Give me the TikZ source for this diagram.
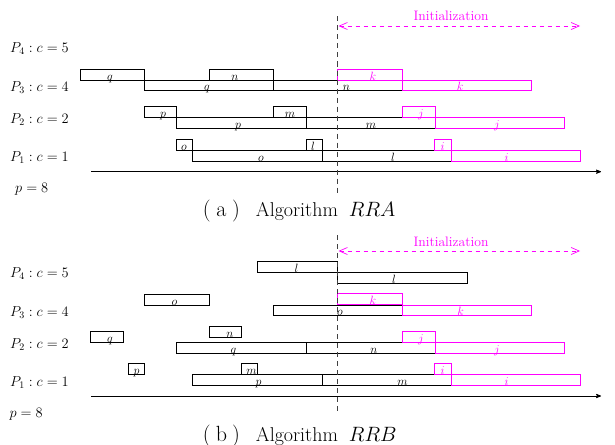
\documentclass[tikz,border=0pt]{standalone}
\usetikzlibrary{arrows,arrows.meta}
\definecolor{mag}{RGB}{255,0,255}
\tikzset{
  jb/.style={draw=black, line width=0.7pt},
  ib/.style={draw=mag, line width=0.7pt},
  jbtext/.style={text=black},
  ibtext/.style={text=mag},
  lbl/.style={anchor=base, inner sep=0pt, font=\fontsize{13}{15}\selectfont},
  rowlbl/.style={anchor=base west, inner sep=0pt, font=\fontsize{14.5}{17}\selectfont},
  captxt/.style={anchor=base west, inner sep=0pt, font=\fontsize{20}{24}\selectfont},
  initlbl/.style={anchor=base, inner sep=0pt, text=mag, font=\fontsize{13.7}{16}\selectfont},
  initarrow/.style={draw=mag, dash pattern=on 4.5pt off 3.5pt, line width=0.7pt,
    {Straight Barb[length=8pt,width=7pt]}-{Straight Barb[length=8pt,width=7pt]}},
  vline/.style={draw=black!75, dash pattern=on 5pt off 4pt, line width=0.8pt},
  axis/.style={draw=black, line width=0.8pt, ->, >=stealth'}
}
% #1 style, #2 name, #3 x1, #4 y1, #5 x2, #6 y2, #7 label x, #8 label
\newcommand\jobbox[8]{%
  \draw[#1] (#3,#4) rectangle (#5,#6);
  \node[lbl,#1text] (#2) at (#7,#6) {$#8$};}
\newcommand\captag[1]{{\fontsize{22}{26}\selectfont\makebox[37pt][s]{(\hfill #1\hfill)}}}
\begin{document}
\begin{tikzpicture}[x=1pt,y=-1pt]
\useasboundingbox (0,0) rectangle (615,444);
% ================= (a) =================
\node[rowlbl] (a4) at (10,52.5) {$P_4 : c = 5$};
\node[rowlbl] (a3) at (10,91) {$P_3 : c = 4$};
\node[rowlbl] (a2) at (10,123) {$P_2 : c = 2$};
\node[rowlbl] (a1) at (10,161) {$P_1 : c = 1$};
\node[rowlbl] (ap) at (15,192.5) {$p = 8$};
% P3
\jobbox{jb}{aq1}{80}{69.3}{144.3}{80}{110}{q}
\jobbox{jb}{aq2}{144.3}{80}{273.3}{90.7}{207}{q}
\jobbox{jb}{an1}{209}{69.3}{273.3}{80}{235}{n}
\jobbox{jb}{an2}{273.3}{80}{402.3}{90.7}{346.5}{n}
% P2
\jobbox{jb}{ap1}{144.3}{106.7}{176.7}{117.7}{163}{p}
\jobbox{jb}{ap2}{176.7}{117.7}{306}{128.7}{238}{p}
\jobbox{jb}{am1}{273.3}{106.7}{306}{117.7}{290}{m}
\jobbox{jb}{am2}{306}{117.7}{435}{128.7}{371}{m}
% P1
\jobbox{jb}{ao1}{176.7}{139.3}{192.7}{150}{184}{o}
\jobbox{jb}{ao2}{192.7}{150}{322.3}{161}{261}{o}
\jobbox{jb}{al1}{306}{139.3}{322.3}{150}{313}{l}
\jobbox{jb}{al2}{322.3}{150}{451}{161}{393}{l}
% magenta
\jobbox{ib}{ak1}{337.7}{69.3}{402.3}{80}{373}{k}
\jobbox{ib}{ak2}{402.3}{80}{531.7}{90.7}{460}{k}
\jobbox{ib}{aj1}{402.3}{106.7}{435}{117.7}{421}{j}
\jobbox{ib}{aj2}{435}{117.7}{564.3}{128.7}{497}{j}
\jobbox{ib}{ai1}{434.3}{139.3}{451}{150}{442.5}{i}
\jobbox{ib}{ai2}{451}{150}{580}{161}{506.5}{i}
% axis, separator, initialization
\coordinate (axs) at (91,171.7);
\coordinate (axe) at (601,171.7);
\draw[axis] (axs) -- (axe);
\coordinate (avt) at (337.7,16.5);
\coordinate (avb) at (337.7,193);
\draw[vline] (avt) -- (avb);
\coordinate (ais) at (338.5,26);
\coordinate (aie) at (580,26);
\draw[initarrow] (ais) -- (aie);
\node[initlbl] (ainit) at (451,20.7) {Initialization};
\node[captxt] (acap) at (202.7,216) {\captag{a}\hspace{16pt}Algorithm\hspace{11pt}$RRA$};
% ================= (b) =================
\node[rowlbl] (b4) at (10,277) {$P_4 : c = 5$};
\node[rowlbl] (b3) at (10,316) {$P_3 : c = 4$};
\node[rowlbl] (b2) at (10,348.5) {$P_2 : c = 2$};
\node[rowlbl] (b1) at (10,386.5) {$P_1 : c = 1$};
\node[rowlbl] (bp) at (9.3,417.5) {$p = 8$};
% P4
\jobbox{jb}{bl1}{257.7}{261.7}{337.7}{272.3}{296.5}{l}
\jobbox{jb}{bl2}{337.7}{272.3}{467.3}{283.3}{394}{l}
% P3
\jobbox{jb}{bo1}{144.3}{294}{209.3}{305}{174.5}{o}
\jobbox{jb}{bo2}{273.3}{305}{402.3}{315.7}{340}{o}
% P2
\jobbox{jb}{bq1}{90.7}{331.7}{123.3}{342.3}{110}{q}
\jobbox{jb}{bn1}{209}{326.3}{241.7}{337}{230}{n}
\jobbox{jb}{bq2}{176.7}{342.3}{306}{353.3}{233.5}{q}
\jobbox{jb}{bn2}{306}{342.3}{435}{353.3}{374}{n}
% P1
\jobbox{jb}{bp1}{128.3}{363.5}{144.3}{374.5}{136.5}{p}
\jobbox{jb}{bm1}{241}{363.5}{257.3}{374.5}{251.5}{m}
\jobbox{jb}{bp2}{192.7}{374.5}{322.3}{385.3}{258.5}{p}
\jobbox{jb}{bm2}{322.3}{374.5}{451}{385.3}{402.5}{m}
% magenta
\jobbox{ib}{bk1}{337.7}{293.5}{402.3}{304.7}{373}{k}
\jobbox{ib}{bk2}{402.3}{305}{531.7}{315.7}{460.5}{k}
\jobbox{ib}{bj1}{402.3}{331.3}{435}{342.3}{421}{j}
\jobbox{ib}{bj2}{435}{342.3}{564.3}{353.3}{497}{j}
\jobbox{ib}{bi1}{434.3}{363.5}{451}{374.5}{442.5}{i}
\jobbox{ib}{bi2}{451}{374.5}{580}{385.3}{506.5}{i}
% axis, separator, initialization
\coordinate (bxs) at (91,396);
\coordinate (bxe) at (601,396);
\draw[axis] (bxs) -- (bxe);
\coordinate (bvt) at (337.7,235);
\coordinate (bvb) at (337.7,413);
\draw[vline] (bvt) -- (bvb);
\coordinate (bis) at (338.5,251);
\coordinate (bie) at (580,251);
\draw[initarrow] (bis) -- (bie);
\node[initlbl] (binit) at (451,246) {Initialization};
\node[captxt] (bcap) at (202.7,441) {\captag{b}\hspace{16pt}Algorithm\hspace{11pt}$RRB$};
\end{tikzpicture}
\end{document}
